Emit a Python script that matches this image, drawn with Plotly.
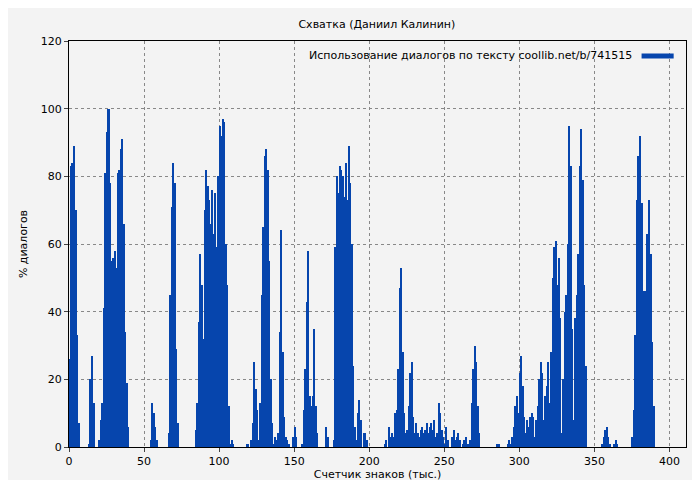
import plotly.graph_objects as go

# data segments: (start x in thousand chars, values in %)
seg_starts = [0, 13, 20, 54, 66, 84, 107, 118, 121, 126, 136, 149, 155, 171, 176, 191, 196, 210, 213, 217, 225, 233, 255, 262, 268, 285, 292, 300, 316, 329, 355, 363, 375]
seg_values = [
    [26, 83, 84, 89, 70, 33, 7],
    [1, 20, 27, 13],
    [2, 8, 13, 41, 81, 93, 100, 78, 55, 56, 58, 53, 81, 82, 88, 91, 66, 34, 19, 6],
    [2, 13, 10, 6, 2],
    [4, 45, 71, 84, 78, 29, 7],
    [5, 13, 37, 57, 48, 32, 70, 82, 77, 73, 66, 76, 63, 75, 59, 80, 95, 92, 97, 96, 60, 48, 12],
    [1, 2, 1],
    [1, 1],
    [2, 7, 25, 17, 11],
    [2, 13, 45, 65, 86, 88, 82, 55, 20, 7],
    [1, 3, 2, 4, 34, 64, 28, 9, 3, 2, 1],
    [3, 6, 3],
    [1, 11, 23, 43, 58, 15, 12, 15, 35, 12, 4],
    [6, 3],
    [2, 59, 80, 75, 83, 82, 80, 74, 84, 73, 89, 78, 60, 24, 6],
    [2, 10, 14, 8],
    [4, 4, 2],
    [1, 2],
    [6, 3, 4, 3],
    [10, 11, 23, 47, 53, 28, 10, 4],
    [5, 12, 22, 25, 9, 4, 7, 4],
    [3, 5, 6, 4, 5, 7, 4, 6, 7, 5, 8, 3, 4, 13, 10, 5, 3, 1, 6, 2],
    [3, 5, 2, 3, 4, 2],
    [1, 2, 3, 1, 1, 2],
    [13, 23, 30, 25, 12, 4],
    [1, 1],
    [1, 2, 1, 3, 6, 12, 15, 10],
    [22, 27, 18, 9, 4, 8, 6, 9, 10, 9, 3, 8, 12, 20, 25, 22],
    [8, 15, 18, 25, 13, 28, 50, 59, 61, 48, 56, 38, 4],
    [20, 40, 45, 60, 95, 83, 35, 8, 38, 45, 57, 83, 94, 79, 48, 24],
    [1, 3, 5, 6, 3, 1],
    [1, 2, 1],
    [3, 11, 33, 73, 86, 92, 72, 29, 46, 40, 63, 73, 57, 31, 12],
]
legend_text = "Использование диалогов по тексту coollib.net/b/741515"

xs, ys = [], []
for s, vals in zip(seg_starts, seg_values):
    for i, v in enumerate(vals):
        xs.append(s + i + 0.5)
        ys.append(v)

fig = go.Figure(go.Bar(
    x=xs, y=ys, width=1.05, marker=dict(color="#0645ad", line=dict(width=0)),
    showlegend=False))

fig.add_annotation(xref="paper", yref="paper", x=0.915, y=0.985, xanchor="right", yanchor="top",
                   text=legend_text, showarrow=False, font=dict(size=11))
fig.add_shape(type="line", xref="paper", yref="paper", x0=0.928, x1=0.98, y0=0.963, y1=0.963,
              line=dict(color="#0645ad", width=5))

fig.update_layout(
    width=700, height=480,
    paper_bgcolor="#f3f3f3", plot_bgcolor="#f3f3f3",
    margin=dict(l=61, r=22, t=33, b=41, autoexpand=False),
    font=dict(family="DejaVu Sans", size=11, color="black"),
    title=dict(text="Схватка (Даниил Калинин)", x=0.527, y=0.975, xanchor="center", font=dict(size=11)),
    bargap=0,
    xaxis=dict(title=dict(text="Счетчик знаков (тыс.)", standoff=2, font=dict(size=11)),
               range=[0, 411], tick0=0, dtick=50, showgrid=True, gridcolor="#888",
               griddash="dot", showline=True, linecolor="black", mirror=True,
               ticks="outside", ticklen=4, zeroline=False, automargin=False),
    yaxis=dict(title=dict(text="% диалогов", standoff=10, font=dict(size=11)),
               range=[0, 120], tick0=0, dtick=20, showgrid=True, gridcolor="#888",
               griddash="dot", showline=True, linecolor="black", mirror=True,
               ticks="outside", ticklen=4, zeroline=False, automargin=False),
)
fig.write_html("out.html")
